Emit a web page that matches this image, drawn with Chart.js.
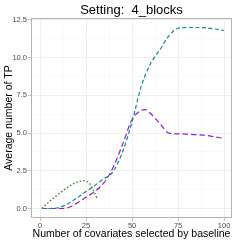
<!DOCTYPE html>
<html>
<head>
<meta charset="utf-8">
<script src="https://cdn.jsdelivr.net/npm/chart.js@4"></script>
<style>
  html, body { margin: 0; padding: 0; background: #fff; }
  #wrap { width: 241px; height: 241px; }
</style>
</head>
<body>
<div id="wrap"><canvas id="c" width="241" height="241"></canvas></div>
<script>
  // values
  const tealX = [1, 5, 10, 15, 20, 25, 30, 35, 38, 40, 45, 50, 55, 60, 65, 70, 75, 80, 85, 90, 95, 100];
  const tealY = [0, 0, 0.05, 0.3, 0.7, 1.12, 1.55, 2.0, 2.22, 2.5, 3.8, 5.75, 8.1, 9.6, 10.5, 11.45, 11.95, 12.0, 12.0, 11.98, 11.9, 11.8];

  const purpleX = [1, 5, 10, 15, 20, 25, 30, 35, 40, 45, 50, 55, 57, 60, 65, 70, 75, 80, 85, 90, 95, 100];
  const purpleY = [0, 0, 0, 0.05, 0.35, 0.75, 1.15, 1.75, 2.8, 4.3, 5.9, 6.5, 6.55, 6.3, 5.65, 5.0, 4.95, 4.93, 4.9, 4.85, 4.75, 4.65];

  const greenX = [1, 5, 10, 15, 20, 24, 27, 29, 31];
  const greenY = [0, 0.45, 0.95, 1.4, 1.75, 1.83, 1.65, 1.2, 0.65];

  const xMajor = [0, 25, 50, 75, 100];
  const xMinor = [12.5, 37.5, 62.5, 87.5];
  const yMajor = [0, 2.5, 5, 7.5, 10, 12.5];
  const yMinor = [1.25, 3.75, 6.25, 8.75, 11.25];

  const titleText = "Setting:  4_blocks";
  const xTitle = "Number of covariates selected by baseline";
  const yTitle = "Average number of TP";

  function pts(xs, ys) {
    return xs.map((x, i) => ({ x: x, y: ys[i] }));
  }

  function tickSet(major, minor) {
    return function (scale) {
      const all = major.map(v => ({ value: v, major: true }))
        .concat(minor.map(v => ({ value: v, major: false })));
      all.sort((a, b) => a.value - b.value);
      scale.ticks = all;
    };
  }

  const gridOpts = {
    color: (ctx) => (ctx.tick && ctx.tick.major ? "#EBEBEB" : "#F4F4F4"),
    lineWidth: (ctx) => (ctx.tick && ctx.tick.major ? 0.8 : 0.5),
    tickColor: (ctx) => (ctx.tick && ctx.tick.major ? "#B3B3B3" : "rgba(0,0,0,0)"),
    tickLength: 3,
    tickWidth: 0.8,
  };

  const frame = {
    id: "frame",
    afterDraw(chart) {
      const c = chart.ctx;
      const a = chart.chartArea;
      c.save();
      c.strokeStyle = "#B3B3B3";
      c.lineWidth = 1;
      c.strokeRect(a.left + 0.5, a.top + 0.5, a.right - a.left - 1, a.bottom - a.top - 1);
      c.fillStyle = "#000";
      c.textAlign = "center";
      c.textBaseline = "middle";
      c.font = "13px 'Liberation Sans', Arial, sans-serif";
      c.fillText(titleText, (a.left + a.right) / 2, 10);
      c.font = "10.5px 'Liberation Sans', Arial, sans-serif";
      c.fillText(xTitle, (a.left + a.right) / 2, 234);
      c.translate(9, (a.top + a.bottom) / 2);
      c.rotate(-Math.PI / 2);
      c.fillText(yTitle, 0, 0);
      c.restore();
    },
  };

  new Chart(document.getElementById("c"), {
    type: "line",
    data: {
      datasets: [
        {
          data: pts(tealX, tealY),
          borderColor: "#0E8B8B",
          borderDash: [4, 2.5],
          borderWidth: 1.2,
          pointRadius: 0,
          cubicInterpolationMode: "monotone",
        },
        {
          data: pts(purpleX, purpleY),
          borderColor: "#9419DF",
          borderDash: [5.5, 3],
          borderWidth: 1.2,
          pointRadius: 0,
          cubicInterpolationMode: "monotone",
        },
        {
          data: pts(greenX, greenY),
          borderColor: "#4E8A2C",
          borderDash: [1.8, 1.8],
          borderWidth: 1.3,
          pointRadius: 0,
          cubicInterpolationMode: "monotone",
        },
      ],
    },
    options: {
      responsive: false,
      animation: false,
      layout: { padding: { top: 18, right: 9, left: 0, bottom: 0 } },
      plugins: { legend: { display: false }, tooltip: { enabled: false } },
      scales: {
        x: {
          type: "linear",
          min: -4.9,
          max: 104.3,
          afterBuildTicks: tickSet(xMajor, xMinor),
          afterFit: (s) => { s.height = 23; },
          grid: gridOpts,
          border: { display: false },
          ticks: {
            autoSkip: false,
            maxRotation: 0,
            padding: 0,
            color: "#4D4D4D",
            font: { family: "'Liberation Sans', Arial, sans-serif", size: 7.5 },
            callback: (v) => (xMajor.includes(v) ? String(v) : ""),
          },
        },
        y: {
          type: "linear",
          min: -0.63,
          max: 12.63,
          afterBuildTicks: tickSet(yMajor, yMinor),
          afterFit: (s) => { s.width = 31; },
          grid: gridOpts,
          border: { display: false },
          ticks: {
            autoSkip: false,
            padding: 1,
            color: "#4D4D4D",
            font: { family: "'Liberation Sans', Arial, sans-serif", size: 7.5 },
            callback: (v) => (yMajor.includes(v) ? v.toFixed(1) : ""),
          },
        },
      },
    },
    plugins: [frame],
  });
</script>
</body>
</html>
